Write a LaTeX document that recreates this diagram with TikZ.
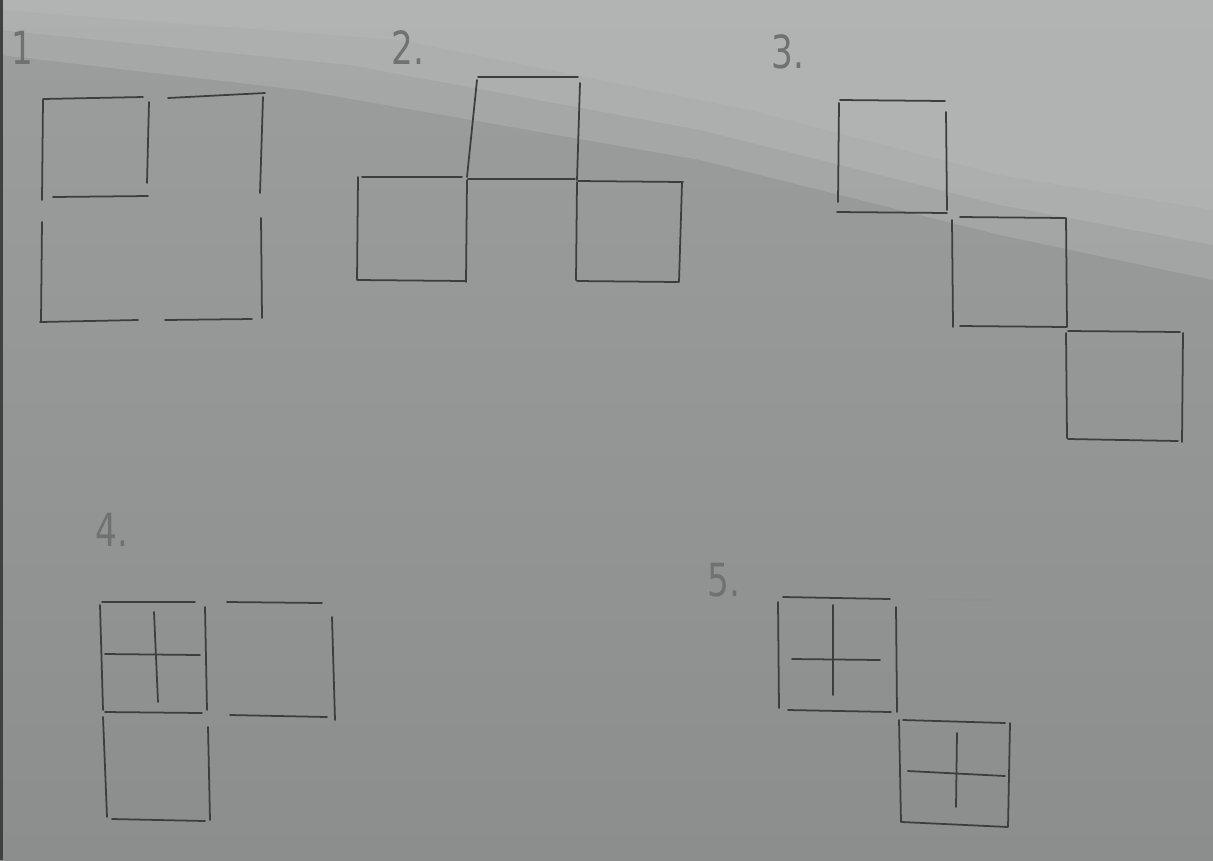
\documentclass[tikz,border=0pt]{standalone}
\usepackage{fontspec}
\setmainfont{DejaVu Sans}
\definecolor{paper}{HTML}{9C9E9E}
\definecolor{paperlight}{HTML}{BCBEBE}
\definecolor{paperdark}{HTML}{8C8E8E}
\definecolor{pencil}{HTML}{3C3E3E}
\definecolor{faint}{HTML}{707272}
\definecolor{erased}{HTML}{8E9090}
\begin{document}
\begin{tikzpicture}[x=.02cm,y=-.02cm,
  stick/.style={draw=pencil,line width=1pt,line cap=round},
  gone/.style={draw=erased,line width=.8pt,line cap=round},
  numlbl/.style={text=faint,font=\fontsize{26}{26}\selectfont\addfontfeature{FakeStretch=.75},inner sep=0pt}]
  % paper
  \useasboundingbox (0,0) rectangle (1213,860);
  \shade[top color=paper,bottom color=paperdark] (0,0) rectangle (1213,860);
  \fill[paperlight,opacity=.35] (0,0)--(1213,0)--(1213,280)--(1000,235)--(700,160)--(300,90)--(0,55)--cycle;
  \fill[paperlight,opacity=.35] (0,0)--(1213,0)--(1213,245)--(1000,205)--(700,130)--(350,65)--(0,30)--cycle;
  \fill[paperlight,opacity=.3] (0,0)--(1213,0)--(1213,210)--(1000,175)--(750,110)--(400,40)--(0,10)--cycle;
  \fill[black!75] (0,0) rectangle (3,860);
  % 1.
  \node[numlbl] (l1) at (22,48){1};
  \draw[stick] (43,99)--(143,97) (43,100)--(42,200) (149,102)--(147,183) (53,197)--(148,196);
  \draw[stick] (168,98)--(265,93) (263,97)--(260,193);
  \draw[stick] (42,222)--(41,322) (40,322)--(138,320);
  \draw[stick] (165,320)--(252,319) (261,218)--(262,318);
  % 2.
  \node[numlbl] (l2) at (408,48){2.};
  \draw[stick] (478,77)--(578,77) (477,80)--(467,177) (580,83)--(577,180);
  \draw[stick] (362,177)--(462,177) (468,179)--(575,179) (578,181)--(683,182);
  \draw[stick] (358,177)--(357,280) (358,280)--(465,281) (467,180)--(466,282);
  \draw[stick] (577,182)--(576,280) (577,281)--(678,282) (682,183)--(679,282);
  % 3.
  \node[numlbl] (l3) at (788,52){3.};
  \draw[stick] (840,100)--(945,101) (839,103)--(838,202) (946,112)--(947,210) (837,212)--(947,213);
  \draw[stick] (960,217)--(1065,218) (952,220)--(953,327) (1066,218)--(1067,327) (960,326)--(1067,327);
  \draw[stick] (1068,331)--(1180,332) (1066,333)--(1067,438) (1183,333)--(1182,442) (1068,439)--(1178,441);
  % 4.
  \node[numlbl] (l4) at (112,530){4.};
  \draw[stick] (102,602)--(195,602) (100,605)--(103,710) (205,607)--(207,710) (105,712)--(202,713);
  \draw[stick] (105,654)--(200,655) (154,612)--(158,702);
  \draw[stick] (227,602)--(322,603) (332,617)--(335,720) (230,715)--(327,717);
  \draw[stick] (103,717)--(107,817) (208,727)--(210,820) (112,819)--(205,821);
  % 5.
  \node[numlbl] (l5) at (724,580){5.};
  \draw[stick] (783,597)--(890,599) (778,602)--(779,708) (896,607)--(897,712) (788,710)--(891,712);
  \draw[stick] (792,659)--(880,660) (833,605)--(833,695);
  \draw[gone] (928,599)--(995,600);
  \draw[stick] (903,720)--(1005,723) (899,720)--(901,822) (1010,723)--(1008,827) (902,822)--(1008,827);
  \draw[stick] (908,771)--(1005,776) (957,733)--(956,807);
\end{tikzpicture}
\end{document}
